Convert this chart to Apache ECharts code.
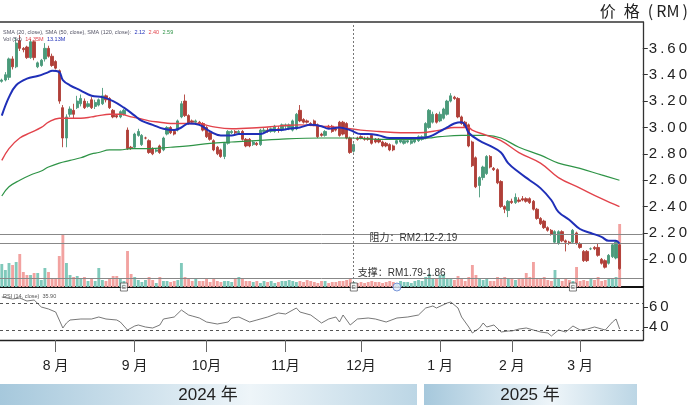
<!DOCTYPE html>
<html><head><meta charset="utf-8">
<script src="https://cdn.jsdelivr.net/npm/echarts@6/dist/echarts.min.js"></script>
<style>html,body{margin:0;padding:0;background:#fff}#c{width:690px;height:407px}</style>
</head><body><div id="c"></div>
<script>
// [open, close, low, high]
const candles = [
[3.35,3.36,3.34,3.37],[3.36,3.40,3.35,3.42],[3.38,3.52,3.36,3.53],[3.52,3.46,3.44,3.54],[3.46,3.64,3.45,3.68],
[3.66,3.60,3.58,3.70],[3.60,3.59,3.57,3.61],[3.61,3.53,3.52,3.62],[3.53,3.65,3.52,3.67],[3.65,3.53,3.51,3.66],
[3.46,3.49,3.45,3.50],[3.47,3.51,3.46,3.52],[3.52,3.60,3.50,3.64],[3.60,3.54,3.53,3.62],[3.54,3.47,3.46,3.56],
[3.50,3.45,3.44,3.51],[3.43,3.20,3.18,3.44],[3.15,2.92,2.85,3.17],[2.92,3.08,2.85,3.10],[3.10,3.14,3.08,3.16],
[3.13,3.10,3.07,3.18],[3.15,3.20,3.14,3.24],[3.18,3.22,3.16,3.25],[3.20,3.15,3.14,3.22],[3.16,3.18,3.15,3.20],
[3.21,3.15,3.14,3.23],[3.16,3.19,3.14,3.21],[3.17,3.21,3.16,3.22],[3.18,3.24,3.17,3.30],[3.24,3.21,3.19,3.25],
[3.22,3.15,3.14,3.23],[3.13,3.08,3.07,3.14],[3.09,3.08,3.07,3.10],[3.08,3.12,3.07,3.13],[3.10,3.13,3.09,3.14],
[2.98,2.84,2.83,3.00],[2.85,2.84,2.83,2.86],[2.85,2.95,2.84,2.96],[2.94,2.97,2.93,2.99],[2.87,2.94,2.86,2.95],
[2.92,2.92,2.91,2.93],[2.90,2.81,2.80,2.91],[2.84,2.80,2.79,2.85],[2.82,2.83,2.81,2.84],[2.86,2.81,2.80,2.87],
[2.83,2.92,2.82,2.93],[2.95,3.00,2.94,3.01],[3.00,2.96,2.95,3.01],[2.97,2.95,2.94,2.98],[2.98,3.05,2.97,3.06],
[3.08,3.18,3.07,3.20],[3.20,3.09,3.08,3.25],[3.09,3.03,3.02,3.10],[3.05,3.04,3.03,3.06],[3.04,3.05,3.03,3.06],
[3.04,3.03,3.02,3.05],[3.03,2.98,2.97,3.04],[3.00,2.93,2.92,3.01],[2.96,2.91,2.90,2.97],[2.90,2.83,2.82,2.91],
[2.85,2.80,2.79,2.86],[2.83,2.78,2.77,2.84],[2.78,2.88,2.76,2.89],[2.88,2.97,2.87,2.98],[2.96,2.97,2.95,2.98],
[2.97,2.96,2.95,2.98],[2.96,2.97,2.95,2.98],[2.97,2.91,2.90,2.98],[2.91,2.86,2.85,2.92],[2.91,2.86,2.85,2.92],
[2.87,2.89,2.86,2.90],[2.88,2.87,2.86,2.89],[2.87,2.98,2.86,2.99],[2.97,2.98,2.96,3.00],[2.98,2.97,2.96,3.00],
[2.97,2.99,2.96,3.00],[2.97,3.01,2.96,3.02],[2.99,2.98,2.96,3.01],[2.98,3.02,2.97,3.03],[3.01,3.02,2.98,3.03],
[3.00,3.02,2.98,3.03],[2.98,3.05,2.97,3.06],[2.99,3.10,2.98,3.11],[3.13,3.05,3.04,3.17],[3.06,3.04,3.03,3.07],
[3.05,3.04,3.03,3.06],[3.03,3.02,3.01,3.04],[3.05,3.02,3.01,3.06],[3.02,2.93,2.92,3.03],[2.95,2.94,2.93,2.96],
[2.94,2.97,2.93,2.98],[3.01,3.00,2.99,3.02],[3.01,2.97,2.96,3.02],[2.99,2.98,2.97,3.00],[3.04,2.94,2.93,3.05],
[3.04,2.95,2.94,3.05],[3.03,2.92,2.91,3.04],[2.92,2.81,2.80,2.93],[2.82,2.87,2.81,2.88],[2.92,2.91,2.90,2.93],
[2.93,2.92,2.91,2.94],[2.92,2.91,2.90,2.93],[2.92,2.91,2.90,2.93],[2.94,2.88,2.87,2.95],[2.91,2.89,2.88,2.92],
[2.91,2.89,2.88,2.92],[2.89,2.86,2.85,2.90],[2.88,2.86,2.85,2.89],[2.87,2.83,2.82,2.88],[2.86,2.83,2.82,2.87],
[2.88,2.90,2.87,2.91],[2.89,2.91,2.88,2.92],[2.88,2.90,2.87,2.91],[2.89,2.90,2.88,2.91],[2.88,2.90,2.87,2.91],
[2.89,2.91,2.88,2.92],[2.90,2.93,2.89,2.94],[2.91,2.93,2.90,2.94],[2.92,3.03,2.91,3.04],[3.00,3.13,2.99,3.14],
[3.04,3.10,3.03,3.12],[3.10,3.04,3.03,3.11],[3.05,3.10,3.04,3.12],[3.07,3.14,3.06,3.15],[3.10,3.20,3.09,3.21],
[3.20,3.24,3.19,3.26],[3.23,3.22,3.21,3.24],[3.22,3.08,3.07,3.23],[3.08,3.03,3.02,3.09],[3.04,3.01,3.00,3.05],
[3.02,2.86,2.85,3.03],[2.89,2.71,2.70,2.90],[2.77,2.55,2.54,2.78],[2.56,2.62,2.47,2.63],[2.62,2.70,2.60,2.71],
[2.65,2.78,2.64,2.79],[2.78,2.70,2.69,2.79],[2.69,2.68,2.67,2.70],[2.68,2.58,2.57,2.69],[2.59,2.40,2.39,2.60],
[2.40,2.38,2.35,2.41],[2.37,2.44,2.32,2.45],[2.44,2.43,2.42,2.46],[2.43,2.47,2.42,2.50],[2.45,2.44,2.43,2.47],
[2.46,2.45,2.44,2.48],[2.46,2.44,2.43,2.47],[2.46,2.43,2.42,2.47],[2.44,2.38,2.37,2.45],[2.38,2.31,2.30,2.39],
[2.31,2.27,2.26,2.32],[2.29,2.24,2.23,2.30],[2.24,2.22,2.21,2.25],[2.22,2.19,2.18,2.23],[2.13,2.21,2.12,2.22],
[2.12,2.21,2.11,2.22],[2.21,2.14,2.13,2.22],[2.14,2.13,2.06,2.15],[2.13,2.12,2.11,2.14],[2.13,2.22,2.12,2.23],
[2.20,2.12,2.11,2.21],[2.12,2.09,2.08,2.13],[2.06,1.99,1.98,2.07],[2.06,1.99,1.98,2.07],[2.08,2.08,2.07,2.09],
[2.09,2.08,2.07,2.10],[2.09,2.03,2.02,2.12],[2.00,1.97,1.96,2.01],[1.99,1.94,1.93,2.00],[1.97,2.03,1.96,2.04],
[2.02,2.11,2.01,2.12],[2.01,2.13,2.00,2.14],[2.11,1.93,1.92,2.12]
];
const volumes = [
23,17,24,22,25,33,15,12,12,14,14,7,19,15,8,9,31,53,24,12,
10,11,8,10,6,8,6,19,7,6,8,11,11,8,6,36,13,10,7,5,
7,10,7,4,10,6,6,5,6,7,24,10,8,6,9,6,6,8,5,8,
6,5,6,6,5,8,10,9,6,6,5,6,4,6,5,6,4,5,6,6,
7,6,5,6,5,7,6,5,4,6,6,4,5,5,6,6,7,8,5,4,
5,4,5,6,5,5,4,5,6,5,4,6,5,5,4,6,7,6,10,13,
8,9,12,13,8,9,7,11,8,6,10,22,12,8,7,9,6,6,10,8,
10,9,8,7,9,8,14,10,25,9,8,10,7,6,17,9,6,8,7,6,
20,6,7,6,8,7,10,6,7,8,9,10,63
];
const ma20 = [[0,3.09],[2,3.23],[4,3.32],[7,3.37],[10,3.39],[13,3.42],[14,3.43],[16,3.42],[17,3.36],[19,3.32],
[22,3.28],[25,3.24],[28,3.23],[31,3.20],[34,3.15],[37,3.09],[39,3.05],[42,3.02],[45,2.99],[48,2.98],[50,3.00],
[52,3.03],[55,3.02],[58,2.97],[61,2.94],[64,2.94],[66,2.95],[69,2.95],[72,2.95],[75,2.98],[77,2.98],[80,2.99],
[83,3.00],[86,3.02],[89,3.01],[91,2.99],[94,3.00],[97,2.98],[100,2.95],[102,2.95],[105,2.94],[108,2.92],
[111,2.92],[114,2.92],[116,2.92],[119,2.93],[122,2.97],[124,3.00],[126,3.03],[128,3.04],[129,3.02],[130,2.96],
[133,2.90],[136,2.86],[139,2.81],[141,2.73],[144,2.66],[147,2.60],[150,2.54],[153,2.45],[155,2.36],[158,2.30],
[161,2.23],[164,2.20],[167,2.17],[169,2.14],[171,2.14],[172,2.12]];
const ma50 = [[0,2.75],[2,2.84],[5,2.92],[8,2.96],[11,3.00],[13,3.04],[16,3.07],[19,3.07],[22,3.07],[25,3.08],
[27,3.09],[30,3.10],[33,3.10],[36,3.08],[38,3.07],[41,3.05],[44,3.04],[47,3.03],[50,3.03],[52,3.03],[55,3.03],
[58,3.01],[64,2.99],[72,3.00],[77,3.01],[83,3.02],[89,3.01],[94,3.00],[100,2.98],[105,2.97],[111,2.96],
[116,2.96],[122,2.98],[126,3.00],[128,3.00],[130,3.00],[131,2.98],[135,2.94],[139,2.90],[144,2.81],[150,2.73],
[155,2.62],[161,2.54],[167,2.46],[172,2.40]];
const ma120 = [[0,2.48],[2,2.55],[5,2.60],[8,2.64],[11,2.67],[13,2.70],[16,2.73],[19,2.75],[22,2.77],[25,2.80],
[27,2.81],[30,2.83],[33,2.83],[36,2.84],[41,2.84],[47,2.85],[52,2.86],[58,2.88],[64,2.89],[77,2.91],[89,2.92],
[97,2.92],[105,2.91],[114,2.91],[119,2.92],[122,2.93],[128,2.94],[135,2.94],[139,2.92],[144,2.85],[150,2.79],
[155,2.73],[161,2.69],[167,2.64],[172,2.60]];
const rsi = [[0,70],[3,68],[5,69],[7,66],[9,67],[11,60],[13,58],[15,55],[16,47],[17,39],[18,44],[19,47],[22,48],
[25,48],[27,50],[29,48],[32,47],[33,45],[35,37],[37,41],[38,42],[40,40],[42,39],[44,42],[45,48],[48,50],[50,57],
[52,52],[53,51],[55,49],[57,45],[60,43],[63,45],[64,49],[66,50],[69,45],[71,47],[74,50],[77,54],[79,53],[82,59],
[83,55],[86,52],[89,44],[91,48],[93,50],[94,45],[95,52],[97,42],[99,48],[102,49],[104,48],[107,45],[110,49],
[113,50],[116,52],[118,59],[120,61],[121,59],[124,64],[125,65],[127,59],[128,50],[130,40],[131,34],[133,39],
[134,44],[135,40],[137,42],[139,35],[141,36],[142,36],[144,38],[146,39],[148,37],[150,35],[152,34],[153,31],
[155,37],[157,35],[159,41],[161,37],[163,38],[165,40],[167,38],[168,37],[170,45],[171,48],[172,38]];
const monthTicks = [15,37,57,79,100,122,142,161];
const monthLabels = ['8 月','9 月','10月','11月','12月','1 月','2 月','3 月'];
const priceTicks = [2.0,2.2,2.4,2.6,2.8,3.0,3.2,3.4,3.6];
const rsiTicks = [40,60];
const rsiBands = [64,37];
const resistance = [2.12,2.19];
const support = [1.79,1.86];
const eventMarks = [34,98,159];
const otherMarks = [110];
const dottedAt = 98;
const years = ['2024 年','2025 年'];
const SLOTS = 179;

const cats = Array.from({length: SLOTS}, (_, i) => String(i));
const UP = '#4a9a7a', DOWN = '#b03f38', VUP = '#80c9bb', VDOWN = '#f2a2a0';
const spaced = s => s.split('').join('\u2009');
const axisFont = 'Liberation Sans, Arial, sans-serif';
const cjk = 'Liberation Sans, Noto Sans CJK SC, sans-serif';

const volData = volumes.map((v, i) => ({
  value: v,
  itemStyle: {color: candles[i][1] >= candles[i][0] ? VUP : VDOWN}
}));

const chart = echarts.init(document.getElementById('c'), null, {renderer: 'canvas'});
const gridL = 0, gridR = 47;
chart.setOption({
  animation: false,
  backgroundColor: '#fff',
  grid: [
    {left: gridL, right: gridR, top: 22, height: 265},
    {left: gridL, right: gridR, top: 222, height: 65},
    {left: gridL, right: gridR, top: 288, height: 52}
  ],
  xAxis: [
    {gridIndex: 0, type: 'category', data: cats, position: 'top', boundaryGap: true,
     axisLine: {show: true, lineStyle: {color: '#333', width: 1.5}}, axisTick: {show: false}, axisLabel: {show: false}, splitLine: {show: false}},
    {gridIndex: 1, type: 'category', data: cats, boundaryGap: true,
     axisLine: {show: true, lineStyle: {color: '#111', width: 2}}, axisTick: {show: false}, axisLabel: {show: false}},
    {gridIndex: 2, type: 'category', data: cats, boundaryGap: true,
     axisLine: {show: true, lineStyle: {color: '#222', width: 1.3}},
     axisTick: {show: true, alignWithLabel: true, length: 12, interval: (i) => monthTicks.includes(i), lineStyle: {color: '#666', width: 1}},
     axisLabel: {show: true, interval: (i) => monthTicks.includes(i), formatter: (v, i) => monthLabels[monthTicks.indexOf(Number(v))] || '',
       margin: 19, fontSize: 14, color: '#222', fontFamily: cjk}}
  ],
  yAxis: [
    {gridIndex: 0, type: 'value', position: 'right', min: 1.79, max: 3.80, splitLine: {show: false},
     axisLine: {show: true, lineStyle: {color: '#333', width: 1.3}},
     axisTick: {show: true, length: 5, customValues: priceTicks, lineStyle: {color: '#333'}},
     axisLabel: {customValues: priceTicks, formatter: v => spaced(v.toFixed(2)), fontSize: 15, color: '#222', margin: 6, fontFamily: axisFont}},
    {gridIndex: 1, type: 'value', min: 0, max: 65, show: false, splitLine: {show: false}},
    {gridIndex: 2, type: 'value', position: 'right', min: 27, max: 79, splitLine: {show: false},
     axisLine: {show: true, lineStyle: {color: '#333', width: 1.3}},
     axisTick: {show: true, length: 5, customValues: rsiTicks, lineStyle: {color: '#333'}},
     axisLabel: {customValues: rsiTicks, formatter: v => spaced(String(v)), fontSize: 15, color: '#222', margin: 6, fontFamily: axisFont}}
  ],
  series: [
    {type: 'bar', xAxisIndex: 1, yAxisIndex: 1, data: volData, barWidth: '80%', z: 1},
    {type: 'candlestick', xAxisIndex: 0, yAxisIndex: 0, data: candles, barWidth: '78%', z: 3,
     itemStyle: {color: UP, color0: DOWN, borderColor: UP, borderColor0: DOWN, borderWidth: 0.9},
     markLine: {silent: true, symbol: ['none', 'none'], animation: false, label: {show: false},
       data: [
         ...resistance.map(v => ({yAxis: v, lineStyle: {color: '#888', width: 1, type: 'solid'}})),
         {yAxis: support[1], lineStyle: {color: '#888', width: 1, type: 'solid'}},
         {xAxis: dottedAt, lineStyle: {color: '#777', width: 1, type: [2, 2]}}
       ]},
     markPoint: {silent: true, animation: false,
       data: [
         {coord: [102, 2.157], symbol: 'circle', symbolSize: 1, itemStyle: {color: 'rgba(0,0,0,0)'},
          label: {show: true, position: 'right', distance: 1, formatter: '阻力：RM2.12-2.19', fontSize: 10, color: '#333', fontFamily: cjk}},
         {coord: [99, 1.895], symbol: 'circle', symbolSize: 1, itemStyle: {color: 'rgba(0,0,0,0)'},
          label: {show: true, position: 'right', distance: 0, formatter: '支撑：RM1.79-1.86', fontSize: 10, color: '#333', fontFamily: cjk}}
       ]}},
    {type: 'line', xAxisIndex: 0, yAxisIndex: 0, data: ma120, smooth: 0.4, showSymbol: false, z: 4,
     lineStyle: {color: '#2f9447', width: 1.2}},
    {type: 'line', xAxisIndex: 0, yAxisIndex: 0, data: ma50, smooth: 0.4, showSymbol: false, z: 4,
     lineStyle: {color: '#e2434b', width: 1.4}},
    {type: 'line', xAxisIndex: 0, yAxisIndex: 0, data: ma20, smooth: 0.4, showSymbol: false, z: 5,
     lineStyle: {color: '#1f2fb8', width: 2}},
    {type: 'line', xAxisIndex: 2, yAxisIndex: 2, data: rsi, showSymbol: false, z: 4,
     lineStyle: {color: '#555', width: 0.8},
     markLine: {silent: true, symbol: ['none', 'none'], label: {show: false},
       data: rsiBands.map(v => ({yAxis: v})), lineStyle: {color: '#555', width: 1, type: [3, 3]}}},
    {type: 'scatter', xAxisIndex: 1, yAxisIndex: 1, clip: false, z: 6,
     data: eventMarks.map(i => [i, 0]), symbol: 'rect', symbolSize: [7, 8],
     itemStyle: {color: '#fff', borderColor: '#333', borderWidth: 0.8},
     label: {show: true, position: 'inside', formatter: 'E', fontSize: 6, color: '#333'}},
    {type: 'scatter', xAxisIndex: 1, yAxisIndex: 1, clip: false, z: 6,
     data: otherMarks.map(i => [i, 0]), symbol: 'circle', symbolSize: 8,
     itemStyle: {color: '#e3ecfb', borderColor: '#5b80cf', borderWidth: 1}}
  ],
  graphic: [
    {type: 'text', right: 2, top: 3, style: {text: '价\u2002格\u2002(\u2009RM\u2009)', font: '16px Noto Sans CJK SC, Liberation Sans', fill: '#222'}},
    {type: 'text', left: 3, top: 26, z: 10, style: {
      text: '{a|SMA (20, close), SMA (50, close), SMA (120, close):} {b|2.12} {r|2.40} {g|2.59}',
      rich: {a: {fontSize: 5.5, fill: '#556', fontFamily: axisFont}, b: {fontSize: 5.5, fill: '#1f2fb8', fontFamily: axisFont},
             r: {fontSize: 5.5, fill: '#e2434b', fontFamily: axisFont}, g: {fontSize: 5.5, fill: '#2f9447', fontFamily: axisFont}}}},
    {type: 'text', left: 3, top: 33, z: 10, style: {
      text: '{a|Vol (5d)} {r|14.35M} {b|13.13M}',
      rich: {a: {fontSize: 5.5, fill: '#556', fontFamily: axisFont}, r: {fontSize: 5.5, fill: '#e2434b', fontFamily: axisFont},
             b: {fontSize: 5.5, fill: '#1f2fb8', fontFamily: axisFont}}}},
    {type: 'text', left: 3, top: 293, z: 10, style: {text: 'RSI (14, close)  35.90', fontSize: 5.5, fill: '#555', fontFamily: axisFont}},
    {type: 'group', left: 0, top: 384, children: [
      {type: 'rect', shape: {x: 0, y: 0, width: 417, height: 21},
       style: {fill: new echarts.graphic.LinearGradient(0, 0, 1, 0, [{offset: 0, color: '#a6c8dc'}, {offset: 0.6, color: '#eef5f9'}, {offset: 1, color: '#bcd6e5'}])}},
      {type: 'text', x: 208, y: 11, style: {text: years[0], font: '17px Liberation Sans, Noto Sans CJK SC', fill: '#222', align: 'center', verticalAlign: 'middle'}},
      {type: 'rect', shape: {x: 424, y: 0, width: 213, height: 21},
       style: {fill: new echarts.graphic.LinearGradient(0, 0, 1, 0, [{offset: 0, color: '#a6c8dc'}, {offset: 0.6, color: '#eef5f9'}, {offset: 1, color: '#bcd6e5'}])}},
      {type: 'text', x: 530, y: 11, style: {text: years[1], font: '17px Liberation Sans, Noto Sans CJK SC', fill: '#222', align: 'center', verticalAlign: 'middle'}}
    ]}
  ]
});
</script></body></html>
